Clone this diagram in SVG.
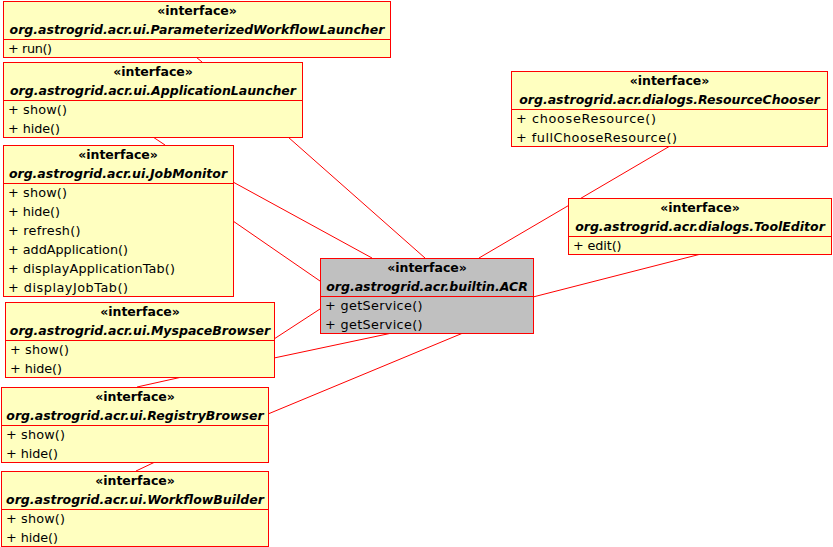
<svg xmlns="http://www.w3.org/2000/svg" width="833" height="547" viewBox="0 0 833 547">
<style>
.box{fill:#FFFFC0;stroke:#FF0000;stroke-width:1}
.acr{fill:#C0C0C0;stroke:#FF0000;stroke-width:1}
.div{stroke:#FF0000;stroke-width:1}
.st{font-family:"DejaVu Sans",sans-serif;font-size:12.5px;font-weight:bold;text-anchor:middle;fill:#000}
.nm{font-family:"DejaVu Sans",sans-serif;font-size:12.5px;font-weight:bold;font-style:italic;text-anchor:middle;fill:#000}
.mb{font-family:"DejaVu Sans",sans-serif;font-size:12.8px;fill:#000}
.conn line{stroke:#FF0000;stroke-width:1}
</style>
<rect width="833" height="547" fill="#FFFFFF"/>
<g id="connectors" class="conn">
<line x1="196" y1="57" x2="202" y2="62"/>
<line x1="153" y1="137" x2="165" y2="145"/>
<line x1="288" y1="137" x2="425" y2="258"/>
<line x1="233" y1="182" x2="372" y2="258"/>
<line x1="233" y1="221" x2="320" y2="281"/>
<line x1="274" y1="339" x2="320" y2="309"/>
<line x1="274" y1="358" x2="392" y2="333"/>
<line x1="182" y1="377" x2="137" y2="387"/>
<line x1="268" y1="414" x2="463" y2="333"/>
<line x1="155" y1="462" x2="136" y2="471"/>
<line x1="670" y1="146" x2="479" y2="258"/>
<line x1="701" y1="254" x2="533" y2="297"/>
</g>
<g id="ParameterizedWorkflowLauncher">
<rect class="box" x="3.5" y="1.5" width="387" height="56"/>
<line class="div" x1="3.5" y1="39.5" x2="390.5" y2="39.5"/>
<text class="st" x="197" y="15">«interface»</text>
<text class="nm" x="197" y="33.5">org.astrogrid.acr.ui.ParameterizedWorkflowLauncher</text>
<text class="mb" x="8" y="52.5" textLength="44" lengthAdjust="spacing">+ run()</text>
</g>
<g id="ApplicationLauncher">
<rect class="box" x="3.5" y="62.5" width="299" height="75"/>
<line class="div" x1="3.5" y1="100.5" x2="302.5" y2="100.5"/>
<text class="st" x="153" y="76">«interface»</text>
<text class="nm" x="153" y="94.5">org.astrogrid.acr.ui.ApplicationLauncher</text>
<text class="mb" x="8" y="113.5" textLength="59" lengthAdjust="spacing">+ show()</text>
<text class="mb" x="8" y="132.5" textLength="52" lengthAdjust="spacing">+ hide()</text>
</g>
<g id="JobMonitor">
<rect class="box" x="3.5" y="145.5" width="230" height="151"/>
<line class="div" x1="3.5" y1="183.5" x2="233.5" y2="183.5"/>
<text class="st" x="118" y="159">«interface»</text>
<text class="nm" x="118" y="177.5">org.astrogrid.acr.ui.JobMonitor</text>
<text class="mb" x="8" y="196.5" textLength="59" lengthAdjust="spacing">+ show()</text>
<text class="mb" x="8" y="215.5" textLength="52" lengthAdjust="spacing">+ hide()</text>
<text class="mb" x="8" y="234.5" textLength="72.5" lengthAdjust="spacing">+ refresh()</text>
<text class="mb" x="8" y="253.5" textLength="120" lengthAdjust="spacing">+ addApplication()</text>
<text class="mb" x="8" y="272.5" textLength="167" lengthAdjust="spacing">+ displayApplicationTab()</text>
<text class="mb" x="8" y="291.5" textLength="120" lengthAdjust="spacing">+ displayJobTab()</text>
</g>
<g id="MyspaceBrowser">
<rect class="box" x="5.5" y="302.5" width="269" height="75"/>
<line class="div" x1="5.5" y1="340.5" x2="274.5" y2="340.5"/>
<text class="st" x="140" y="316">«interface»</text>
<text class="nm" x="140" y="334.5">org.astrogrid.acr.ui.MyspaceBrowser</text>
<text class="mb" x="10" y="353.5" textLength="59" lengthAdjust="spacing">+ show()</text>
<text class="mb" x="10" y="372.5" textLength="52" lengthAdjust="spacing">+ hide()</text>
</g>
<g id="RegistryBrowser">
<rect class="box" x="1.5" y="387.5" width="267" height="75"/>
<line class="div" x1="1.5" y1="425.5" x2="268.5" y2="425.5"/>
<text class="st" x="135" y="401">«interface»</text>
<text class="nm" x="135" y="419.5">org.astrogrid.acr.ui.RegistryBrowser</text>
<text class="mb" x="6" y="438.5" textLength="59" lengthAdjust="spacing">+ show()</text>
<text class="mb" x="6" y="457.5" textLength="52" lengthAdjust="spacing">+ hide()</text>
</g>
<g id="WorkflowBuilder">
<rect class="box" x="1.5" y="471.5" width="267" height="75"/>
<line class="div" x1="1.5" y1="509.5" x2="268.5" y2="509.5"/>
<text class="st" x="135" y="485">«interface»</text>
<text class="nm" x="135" y="503.5">org.astrogrid.acr.ui.WorkflowBuilder</text>
<text class="mb" x="6" y="522.5" textLength="59" lengthAdjust="spacing">+ show()</text>
<text class="mb" x="6" y="541.5" textLength="52" lengthAdjust="spacing">+ hide()</text>
</g>
<g id="ResourceChooser">
<rect class="box" x="511.5" y="71.5" width="316" height="75"/>
<line class="div" x1="511.5" y1="109.5" x2="827.5" y2="109.5"/>
<text class="st" x="669.5" y="85">«interface»</text>
<text class="nm" x="669.5" y="103.5">org.astrogrid.acr.dialogs.ResourceChooser</text>
<text class="mb" x="516" y="122.5" textLength="140" lengthAdjust="spacing">+ chooseResource()</text>
<text class="mb" x="516" y="141.5" textLength="161" lengthAdjust="spacing">+ fullChooseResource()</text>
</g>
<g id="ToolEditor">
<rect class="box" x="568.5" y="198.5" width="263" height="56"/>
<line class="div" x1="568.5" y1="236.5" x2="831.5" y2="236.5"/>
<text class="st" x="700" y="212">«interface»</text>
<text class="nm" x="700" y="230.5">org.astrogrid.acr.dialogs.ToolEditor</text>
<text class="mb" x="573" y="249.5" textLength="48.5" lengthAdjust="spacing">+ edit()</text>
</g>
<g id="ACR">
<rect class="acr" x="320.5" y="258.5" width="213" height="75"/>
<line class="div" x1="320.5" y1="296.5" x2="533.5" y2="296.5"/>
<text class="st" x="427" y="272">«interface»</text>
<text class="nm" x="427" y="290.5">org.astrogrid.acr.builtin.ACR</text>
<text class="mb" x="325" y="309.5" textLength="97.5" lengthAdjust="spacing">+ getService()</text>
<text class="mb" x="325" y="328.5" textLength="97.5" lengthAdjust="spacing">+ getService()</text>
</g>
</svg>
